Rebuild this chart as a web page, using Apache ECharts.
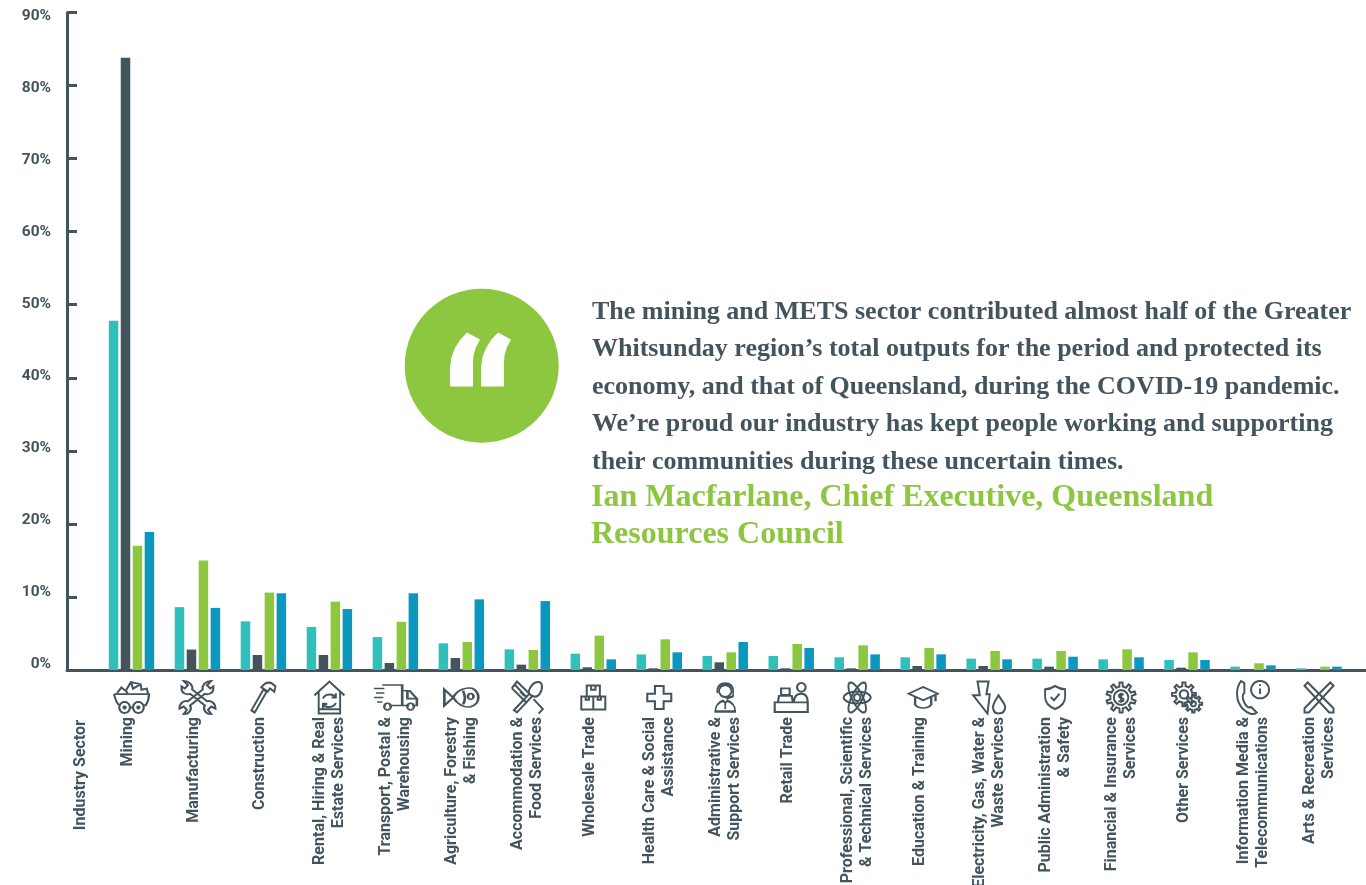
<!DOCTYPE html>
<html>
<head>
<meta charset="utf-8">
<style>html,body{margin:0;padding:0;background:#fff}#c{width:1366px;height:885px}</style>
<script src="https://cdn.jsdelivr.net/npm/echarts@6/dist/echarts.min.js"></script>
</head>
<body>
<div id="c"></div>
<script>
const categories = ['Mining','Manufacturing','Construction','Rental, Hiring & Real\nEstate Services','Transport, Postal &\nWarehousing','Agriculture, Forestry\n& Fishing','Accommodation &\nFood Services','Wholesale Trade','Health Care & Social\nAssistance','Administrative &\nSupport Services','Retail Trade','Professional, Scientific\n& Technical Services','Education & Training','Electricity, Gas, Water &\nWaste Services','Public Administration\n& Safety','Financial & Insurance\nServices','Other Services','Information Media &\nTelecommunications','Arts & Recreation\nServices'];
const tealValues  = [47.8,8.6,6.66,5.9,4.5,3.65,2.83,2.23,2.14,1.92,1.92,1.74,1.74,1.55,1.55,1.46,1.37,0.46,0.23];
const darkValues  = [83.8,2.8,2.05,2.05,0.96,1.64,0.73,0.37,0.23,1.05,0.23,0.23,0.55,0.55,0.46,0.15,0.32,0,0];
const greenValues = [17.0,15.0,10.6,9.35,6.6,3.83,2.74,4.7,4.2,2.42,3.56,3.38,3.01,2.6,2.6,2.83,2.42,0.92,0.46];
const blueValues  = [18.9,8.5,10.5,8.35,10.5,9.67,9.44,1.46,2.42,3.83,3.01,2.14,2.14,1.46,1.82,1.74,1.37,0.64,0.46];
const quoteLines = ['The mining and METS sector contributed almost half of the Greater','Whitsunday region\u2019s total outputs for the period and protected its','economy, and that of Queensland, during the COVID-19 pandemic.','We\u2019re proud our industry has kept people working and supporting','their communities during these uncertain times.'];
const attributionLines = ['Ian Macfarlane, Chief Executive, Queensland','Resources Council'];

const INK='#44545c', TEAL='#2fc0bc', GREEN='#8dc63f', BLUE='#0a98bf';

function ell(x,y,a,b,rot){const t=rot*Math.PI/180;let s='';for(let i=0;i<40;i++){const u=i/40*Math.PI*2,px=a*Math.cos(u),py=b*Math.sin(u);s+=(i?'L':'M')+(x+px*Math.cos(t)-py*Math.sin(t)).toFixed(2)+' '+(y+px*Math.sin(t)+py*Math.cos(t)).toFixed(2);}return s+'Z';}
const circ=(x,y,r)=>ell(x,y,r,r,0);
function gear(x,y,ro,ri,n){let s='';const st=Math.PI*2/n;for(let i=0;i<n;i++){const a=i*st-Math.PI/2;const pts=[[ri,a-st*.5],[ri,a-st*.26],[ro,a-st*.16],[ro,a+st*.16],[ri,a+st*.26]];pts.forEach((p,j)=>{s+=(i===0&&j===0?'M':'L')+(x+p[0]*Math.cos(p[1])).toFixed(2)+' '+(y+p[0]*Math.sin(p[1])).toFixed(2);});}return s+'Z';}

const iconPaths = [
 'M1 13H34C34 17 33 20 31 23H29M6 23C3 21 2 17 1 13M4 12L8 7L12 10L17 2L26 4L27 9L32 8L33 12M17 2L19 8L26 4M12 10L14 12M16 25H19'+circ(11,25,5)+circ(24,25,5)+circ(11,25,1)+circ(24,25,1),
 'M3 8C3 13 8 14 11 13L25 24C23 27 25 32 31 32L28 28L31 25L35 27C35 22 31 19 27 20L13 9C14 5 10 1 5 1L9 5L6 8L3 6ZM33 8C33 13 28 14 25 13L11 24C13 27 11 32 5 32L8 28L5 25L1 27C1 22 5 19 9 20L23 9C22 5 26 1 31 1L27 5L30 8L33 6Z',
 'M1 27L12 8L15 10L4 29ZM10 6C13 2 16 1 19 2L23 5L22 10L18 7L16 10L10 6Z',
 'M1 14L15 1L29 14M5 11V31H25V11M5 27H25M9 17C11 12 19 12 21 16M21 21C19 26 11 26 9 22M21 12V16H17M9 26V22H13',
 'M9 2H28V20H18M28 7H35L42 14V20H39M33 7V14H42M28 20H33M1 5H11M3 9H11M1 13H10M4 17H9'+circ(14,21,3)+circ(36,21,3),
 'M10 9C14 2 22 0 27 1C31 2 33 6 33 9C33 13 30 16 26 17C20 18 14 15 10 9ZM10 9L2 2V16L10 9M19 3C21 7 21 12 19 15'+circ(26,8,2.5),
 'M6 29L21 14C27 17 31 9 30 4C29 0 23 1 20 5C17 9 17 11 18 12L3 27ZM1 7L15 20L18 17M1 7L6 1L20 14M4 4L15 15M27 30L31 26L22 17M13 14L9 10',
 'M6 1H18V11H6ZM1 11H23V23H1ZM12 11V23M10 1V5H14V1M5 11V14H8V11M16 11V14H19V11',
 'M8 1H16V8H23V15H16V22H8V15H1V8H8Z',
 circ(10,8,5.5)+'M3 10C2 3 6 1 10 1C14 1 18 3 17 10M17 10V13L11 15M1 27C1 21 5 18 8 17L10 19L12 17C15 18 19 21 19 27ZM10 19V25',
 'M1 19H32V28H1ZM7 6H15V12H7ZM4 19L5 13H17L18 19M19 19C19 13 22 11 26 11C30 11 32 14 32 19'+circ(26,5,4),
 ell(13.5,15,13,5,0)+ell(13.5,15,14.5,5,60)+ell(13.5,15,14.5,5,120)+circ(13.5,15,3),
 'M14.5 1L28 7L14.5 13L1 7ZM7 10V17C10 21 19 21 22 17V10M26 8V14',
 'M6 1H16L14 13H17L15 31L2 14H8ZM25 14C22 19 20 22 20 25C20 29 22 31 25 31C29 31 31 29 31 25C31 22 28 19 25 14Z',
 'M10 1C13 3 16 4 19 4V11C19 17 15 20 10 22C5 20 1 17 1 11V4C4 4 7 3 10 1ZM6 11L9 14L14 8',
 gear(14.5,15,14.5,10.5,10)+circ(14.5,15,7)+'M17 12.5C15 11 12 12 12.5 14C13 16 17 15 17 17C17 19 13.5 19.5 12 18M14.5 10.5V20',
 gear(12,12,11.5,8,8)+circ(12,12,4)+gear(21,21,8.5,6,8)+circ(21,21,2.5),
 'M6 1C1 8 1 20 8 27C12 31 17 33 20 30L15 25C13 26 11 25 9 21C7 17 7 13 9 12L9 3ZM23 8V13M23 4V5.5'+circ(23,9,8),
 'M1 4L4 1L28 25L28 29L24 29ZM28 4L25 1L1 25L1 29L5 29Z'
];
const iconSizes = [[35,31],[36,33],[24,30],[30,32],[43,25],[34,19],[31,32],[24,24],[24,23],[20,28],[33,29],[27,30],[29,21],[32,32],[20,23],[29,30],[30,30],[32,33],[29,30]];

const axisStyle={lineStyle:{color:INK,width:3}};
const barSeries=(name,data,color)=>({name,type:'bar',xAxisIndex:0,yAxisIndex:0,data,barWidth:9.5,barGap:'26%',itemStyle:{color},silent:true,z:2});

const quoteFont='bold 26px "Liberation Serif"';
const lineYs=[312,349,387,424,462];
const attrYs=[498,535];
const quoteMark=[[450,386.5],[473,386.5],[473,362],[473.6,355],[476,347],[480,339.5],[467,332.5],[460,340],[455,348],[451.5,357],[450,368]];
const graphic=[
 {type:'circle',shape:{cx:481.7,cy:365.7,r:77},style:{fill:GREEN},silent:true,z:1},
 {type:'polygon',shape:{points:quoteMark},style:{fill:'#fff'},silent:true,z:2},
 {type:'polygon',x:31,shape:{points:quoteMark},style:{fill:'#fff'},silent:true,z:2},
 {type:'text',x:81,y:720,rotation:Math.PI/2,style:{text:'Industry Sector',font:'700 16px Roboto',fill:INK,align:'right',verticalAlign:'middle'},silent:true}
];
quoteLines.forEach((t,i)=>graphic.push({type:'text',x:592,y:lineYs[i],style:{text:t,font:quoteFont,fill:INK,verticalAlign:'middle'},silent:true}));
attributionLines.forEach((t,i)=>graphic.push({type:'text',x:591,y:attrYs[i],style:{text:t,font:'bold 32px "Liberation Serif"',fill:GREEN,verticalAlign:'middle'},silent:true}));

const chart=echarts.init(document.getElementById('c'),null,{renderer:'canvas'});
chart.setOption({
 animation:false,
 backgroundColor:'#fff',
 grid:[
  {left:98.5,top:12.5,width:1253.5,height:657.5,outerBoundsMode:'none'},
  {left:67,top:12.5,width:1299,height:657.5,outerBoundsMode:'none'},
  {left:67,top:16,width:1299,height:648,outerBoundsMode:'none'}
 ],
 xAxis:[
  {type:'category',gridIndex:0,data:categories.map(c=>c.includes('\n')?c:({value:c,textStyle:{verticalAlign:'bottom',lineHeight:6}})),axisLine:{show:false},axisTick:{show:false},
   axisLabel:{interval:0,rotate:90,margin:47,align:'right',verticalAlign:'middle',fontFamily:'Roboto',fontWeight:700,fontSize:16,lineHeight:19,color:INK,hideOverlap:false}},
  {type:'value',gridIndex:1,min:0,max:1,axisLine:{show:true,...axisStyle},axisTick:{show:false},axisLabel:{show:false},splitLine:{show:false}},
  {type:'value',gridIndex:2,min:0,max:1,show:false}
 ],
 yAxis:[
  {type:'value',gridIndex:0,min:0,max:90,interval:10,show:false},
  {type:'value',gridIndex:1,min:0,max:90,interval:10,axisLine:{show:true,...axisStyle},axisTick:{show:true,inside:true,length:10,lineStyle:{color:INK,width:3}},axisLabel:{show:false},splitLine:{show:false}},
  {type:'value',gridIndex:2,min:0,max:90,interval:10,axisLine:{show:false},axisTick:{show:false},splitLine:{show:false},
   axisLabel:{margin:16,formatter:'{value}%',fontFamily:'Roboto',fontWeight:700,fontSize:15.5,color:INK}}
 ],
 series:[
  barSeries('Series 1',tealValues,TEAL),
  barSeries('Series 2',darkValues,INK),
  barSeries('Series 3',greenValues,GREEN),
  barSeries('Series 4',blueValues,BLUE),
  {type:'scatter',name:'Icons',xAxisIndex:0,yAxisIndex:0,clip:false,silent:true,z:5,
   itemStyle:{color:'rgba(0,0,0,0)',borderColor:INK,borderWidth:2,opacity:1},
   symbolKeepAspect:false,
   data:categories.map((c,i)=>({value:[i,0],symbol:'path://'+iconPaths[i],symbolSize:iconSizes[i],symbolOffset:[0,27.5]}))}
 ],
 graphic:{elements:graphic}
});
</script>
</body>
</html>
